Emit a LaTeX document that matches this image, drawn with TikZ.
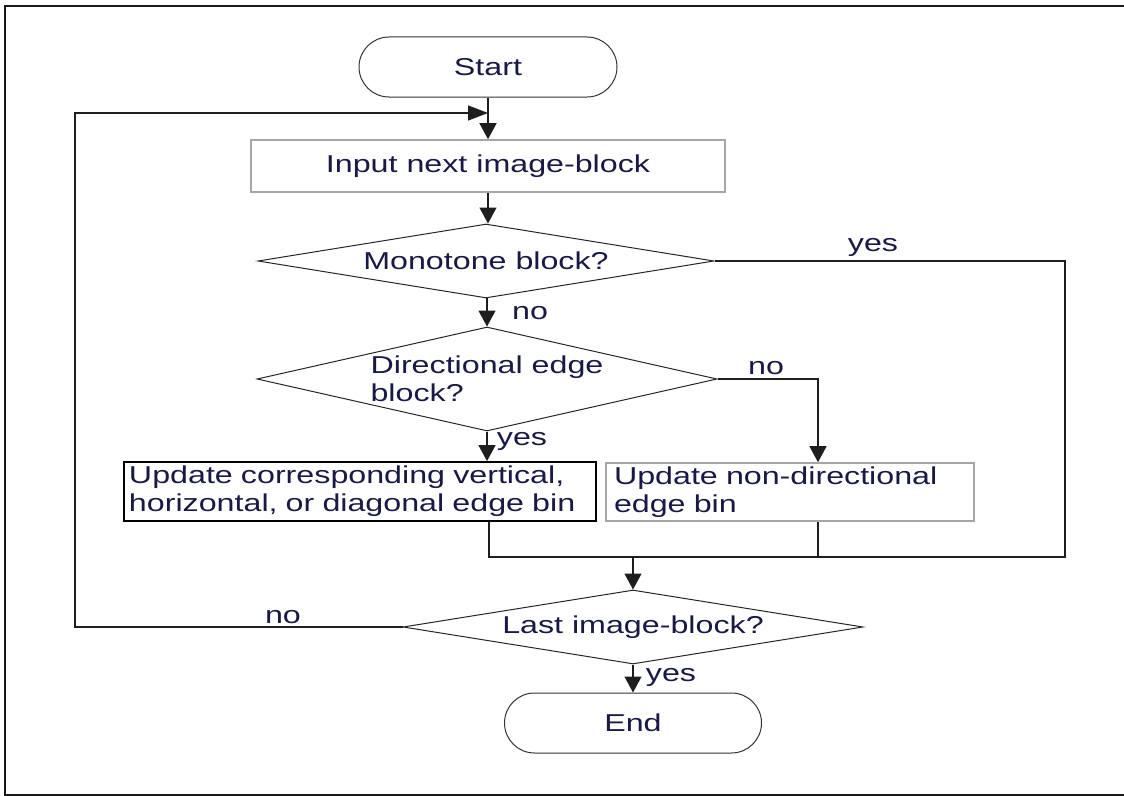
\documentclass[tikz,border=0pt]{standalone}
\usepackage{fontspec}
\setmainfont{Liberation Sans}[FakeStretch=1.32]
\usetikzlibrary{shapes.geometric,arrows.meta}
\definecolor{txt}{RGB}{25,25,70}
\definecolor{lin}{RGB}{30,30,30}
\begin{document}
\begin{tikzpicture}[x=1bp,y=-1bp,
  every node/.append style={font=\fontsize{24.5}{28}\selectfont, text=txt},
  conn/.style={draw=lin, line width=1.4bp},
  arr/.style={conn, -{Triangle[length=16bp,width=17bp]}},
  harr/.style={conn, -{Triangle[length=20bp,width=15bp]}},
  term/.style={draw=gray!40!black, line width=1bp, rounded corners=30bp,
    minimum width=258bp, minimum height=60bp, inner sep=0pt},
  proc/.style={draw=gray!70, line width=1.6bp, inner sep=0pt},
  dec/.style={diamond, draw=gray!30!black, line width=1bp, inner sep=0pt},
  lab/.style={inner sep=0pt}
]
\useasboundingbox (0,0) rectangle (1124,796);
\draw[line width=1.4bp, draw=gray!20!black] (1130,6) -- (5,6) -- (5,795) -- (1130,795);

\node[term] (start) at (488,67) {Start};
\node[proc, minimum width=474bp, minimum height=52bp] (input) at (488,166) {Input next image-block};
\node[dec, aspect=6.16, minimum width=456bp, minimum height=74bp] (mono) at (486,261) {Monotone block?};
\node[dec, aspect=4.42, minimum width=460bp, minimum height=104bp, align=left] (dir) at (487,379) {Directional edge\\block?};
\node[draw=black, line width=1.8bp, inner xsep=5bp, inner ysep=0pt, text width=462bp, align=left,
  minimum height=59bp] (upL) at (360,491.5) {Update corresponding vertical,\\horizontal, or diagonal edge bin};
\node[proc, inner xsep=8bp, inner ysep=0pt, text width=352bp, align=left,
  minimum height=58bp] (upR) at (790,492) {Update non-directional\\edge bin};
\node[dec, aspect=6.22, minimum width=460bp, minimum height=74bp] (last) at (633,627) {Last image-block?};
\node[term, minimum width=257bp] (end) at (633,723) {End};

\coordinate (loopL) at (75,113);
\coordinate (loopJ) at (488,113);
\coordinate (mL) at (489,557);
\coordinate (mE) at (818,557);
\coordinate (mC) at (633,557);
\coordinate (mR) at (1065,557);

\draw[arr] (start.south) -- (input.north);
\draw[harr] (last.west) -| (loopL) -- (loopJ);
\draw[arr] (input.south) -- (input.south |- mono.north);
\draw[arr] (mono.south) -- (mono.south -| dir.north) -- (dir.north);
\draw[conn] (mono.east) -| (mR) -- (mL) -- (mL |- upL.south);
\draw[arr] (dir.south) -- (dir.south |- upL.north);
\draw[arr] (dir.east) -| (mE |- upR.north);
\draw[conn] (mE |- upR.south) -- (mE);
\draw[arr] (mC) -- (last.north);
\draw[arr] (last.south) -- (end.north);

\node[lab] (l1) at (873,247) {yes};
\node[lab] (l2) at (530,313) {no};
\node[lab] (l3) at (766,368) {no};
\node[lab] (l4) at (522,441) {yes};
\node[lab] (l5) at (283,617) {no};
\node[lab] (l6) at (671,677) {yes};
\end{tikzpicture}
\end{document}
